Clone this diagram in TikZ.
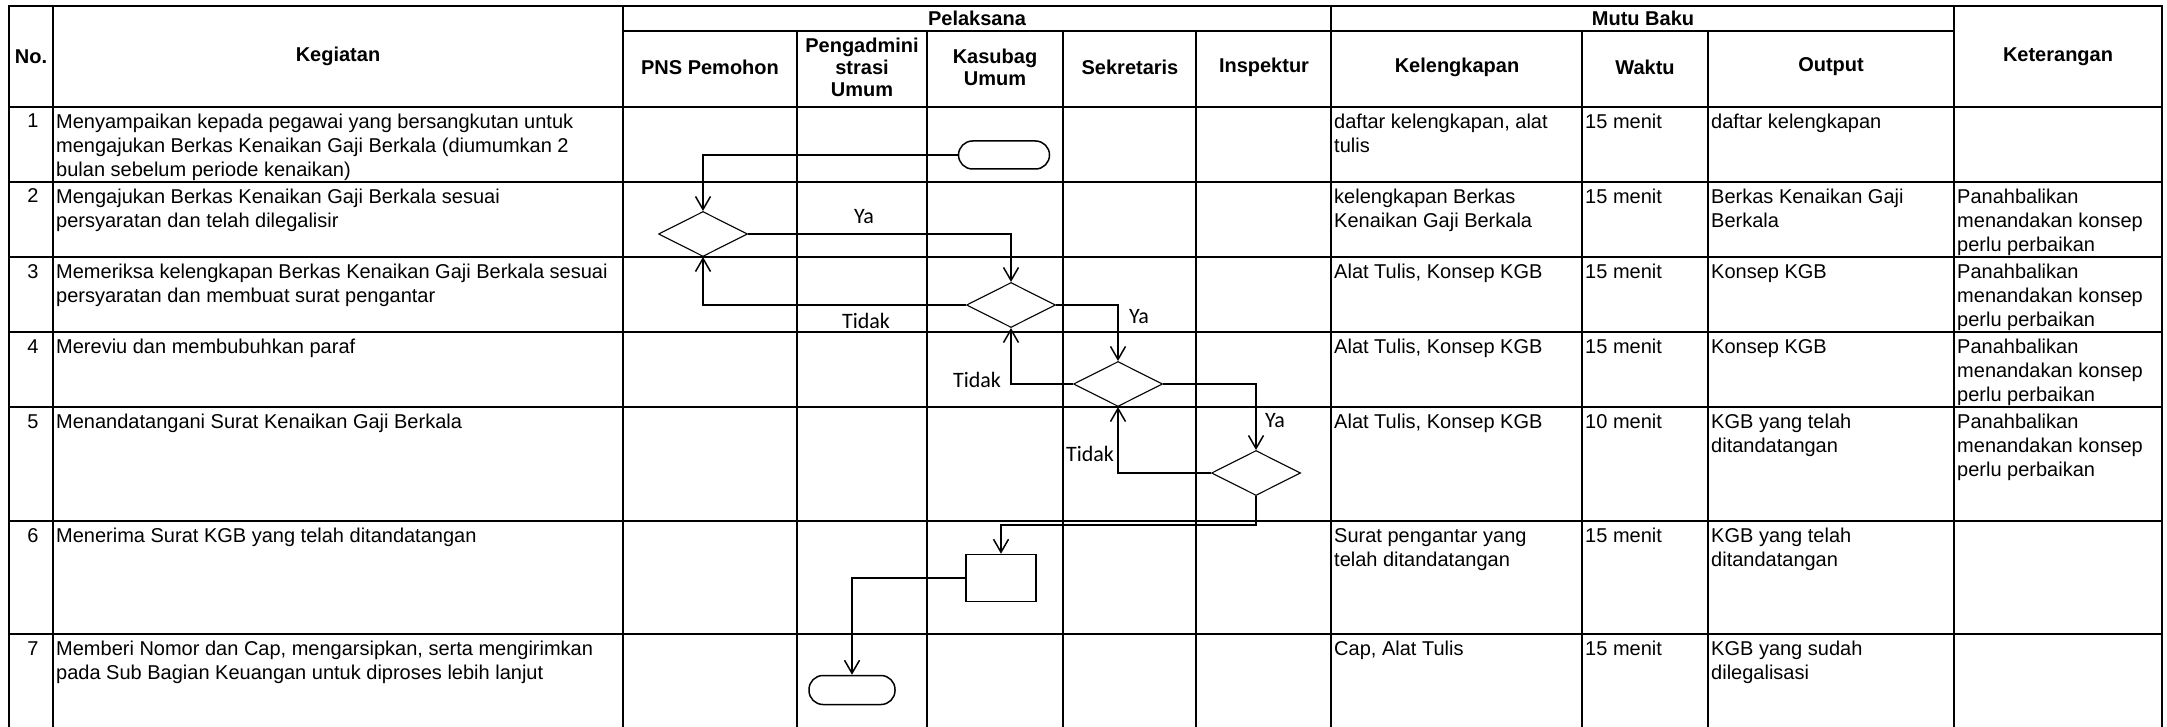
\documentclass[tikz,border=0pt]{standalone}
\usepackage{fontspec}
\setmainfont{Liberation Sans}
\newfontfamily\lblfont{Carlito}
\usetikzlibrary{shapes.geometric,arrows.meta}
\newcommand\bodyfont{\fontsize{20}{24}\selectfont}
\newcommand\headfont{\fontsize{20}{22}\selectfont\bfseries}
\newcommand\cellstrut{\rule{0pt}{16pt}}

\begin{document}
\begin{tikzpicture}[x=1pt,y=-1pt,
  grid/.style={line width=2.2pt, line cap=rect},
  head/.style={font=\headfont, align=center, inner sep=0pt},
  cell/.style={font=\bodyfont, anchor=north west, align=left, inner sep=0pt},
  num/.style={font=\bodyfont, anchor=base, inner sep=0pt},
  lbl/.style={font=\lblfont\fontsize{22}{26}\selectfont, anchor=base, inner sep=0pt},
  flow/.style={line width=1.5pt, -{Straight Barb[length=13pt,width=15pt]}},
  dec/.style={diamond, draw, line width=1.1pt, minimum width=89pt, minimum height=45pt, inner sep=0pt},
  term/.style={rectangle, draw, line width=1.5pt, rounded corners=14pt, minimum width=91pt, minimum height=28pt, inner sep=0pt},
  proc/.style={rectangle, draw, line width=1.5pt, minimum width=70pt, minimum height=47pt, inner sep=0pt}]
\useasboundingbox (0,0) rectangle (2167,727);

% ---------- table rules ----------
\foreach \x in {9,53,623,1331,1954,2162} \draw[grid] (\x,6) -- (\x,727);
\foreach \x in {797,927,1063,1196,1582,1708} \draw[grid] (\x,31) -- (\x,727);
\draw[grid] (9,6) -- (2162,6);
\draw[grid] (623,31) -- (1954,31);
\foreach \y in {107,182,257,332,407,521,634} \draw[grid] (9,\y) -- (2162,\y);

% ---------- header ----------
\node[head] (hNo)   at (31,57)   {No.};
\node[head] (hKeg)  at (338,56)  {Kegiatan};
\node[head] (hPel)  at (977,18)  {Pelaksana};
\node[head] (hMutu) at (1643,18) {Mutu Baku};
\node[head] (hPNS)  at (710,67)  {PNS Pemohon};
\node[head] (hPeng) at (862,67)  {Pengadmini\\strasi\\Umum};
\node[head] (hKas)  at (995,67)  {Kasubag\\Umum};
\node[head] (hSek)  at (1130,67) {Sekretaris};
\node[head] (hIns)  at (1264,67) {Inspektur};
\node[head] (hKel)  at (1457,67) {Kelengkapan};
\node[head] (hWak)  at (1645,67) {Waktu};
\node[head] (hOut)  at (1831,67) {Output};
\node[head] (hKet)  at (2058,57) {Keterangan};

% ---------- row numbers ----------
\node[num] (n1) at (33,128) {1};
\node[num] (n2) at (33,203) {2};
\node[num] (n3) at (33,278) {3};
\node[num] (n4) at (33,353) {4};
\node[num] (n5) at (33,428) {5};
\node[num] (n6) at (33,542) {6};
\node[num] (n7) at (33,655) {7};

% ---------- activities ----------
\node[cell] (k1) at (56,112) {\cellstrut Menyampaikan kepada pegawai yang bersangkutan untuk\\mengajukan Berkas Kenaikan Gaji Berkala (diumumkan 2\\bulan sebelum periode kenaikan)};
\node[cell] (k2) at (56,187) {\cellstrut Mengajukan Berkas Kenaikan Gaji Berkala sesuai\\persyaratan dan telah dilegalisir};
\node[cell] (k3) at (56,262) {\cellstrut Memeriksa kelengkapan Berkas Kenaikan Gaji Berkala sesuai\\persyaratan dan membuat surat pengantar};
\node[cell] (k4) at (56,337) {\cellstrut Mereviu dan membubuhkan paraf};
\node[cell] (k5) at (56,412) {\cellstrut Menandatangani Surat Kenaikan Gaji Berkala};
\node[cell] (k6) at (56,526) {\cellstrut Menerima Surat KGB yang telah ditandatangan};
\node[cell] (k7) at (56,639) {\cellstrut Memberi Nomor dan Cap, mengarsipkan, serta mengirimkan\\pada Sub Bagian Keuangan untuk diproses lebih lanjut};

% ---------- Kelengkapan ----------
\node[cell] (l1) at (1334,112) {\cellstrut daftar kelengkapan, alat\\tulis};
\node[cell] (l2) at (1334,187) {\cellstrut kelengkapan Berkas\\Kenaikan Gaji Berkala};
\node[cell] (l3) at (1334,262) {\cellstrut Alat Tulis, Konsep KGB};
\node[cell] (l4) at (1334,337) {\cellstrut Alat Tulis, Konsep KGB};
\node[cell] (l5) at (1334,412) {\cellstrut Alat Tulis, Konsep KGB};
\node[cell] (l6) at (1334,526) {\cellstrut Surat pengantar yang\\telah ditandatangan};
\node[cell] (l7) at (1334,639) {\cellstrut Cap, Alat Tulis};

% ---------- Waktu ----------
\node[cell] (w1) at (1585,112) {\cellstrut 15 menit};
\node[cell] (w2) at (1585,187) {\cellstrut 15 menit};
\node[cell] (w3) at (1585,262) {\cellstrut 15 menit};
\node[cell] (w4) at (1585,337) {\cellstrut 15 menit};
\node[cell] (w5) at (1585,412) {\cellstrut 10 menit};
\node[cell] (w6) at (1585,526) {\cellstrut 15 menit};
\node[cell] (w7) at (1585,639) {\cellstrut 15 menit};

% ---------- Output ----------
\node[cell] (o1) at (1711,112) {\cellstrut daftar kelengkapan};
\node[cell] (o2) at (1711,187) {\cellstrut Berkas Kenaikan Gaji\\Berkala};
\node[cell] (o3) at (1711,262) {\cellstrut Konsep KGB};
\node[cell] (o4) at (1711,337) {\cellstrut Konsep KGB};
\node[cell] (o5) at (1711,412) {\cellstrut KGB yang telah\\ditandatangan};
\node[cell] (o6) at (1711,526) {\cellstrut KGB yang telah\\ditandatangan};
\node[cell] (o7) at (1711,639) {\cellstrut KGB yang sudah\\dilegalisasi};

% ---------- Keterangan ----------
\node[cell] (t2) at (1957,187) {\cellstrut Panahbalikan\\menandakan konsep\\perlu perbaikan};
\node[cell] (t3) at (1957,262) {\cellstrut Panahbalikan\\menandakan konsep\\perlu perbaikan};
\node[cell] (t4) at (1957,337) {\cellstrut Panahbalikan\\menandakan konsep\\perlu perbaikan};
\node[cell] (t5) at (1957,412) {\cellstrut Panahbalikan\\menandakan konsep\\perlu perbaikan};

% ---------- flow symbols ----------
\node[term] (S)  at (1004,155) {};
\node[dec]  (D1) at (703,234)  {};
\node[dec]  (D2) at (1011,305) {};
\node[dec]  (D3) at (1118,384) {};
\node[dec]  (D4) at (1256,473) {};
\node[proc] (B)  at (1001,578) {};
\node[term, minimum width=86pt, minimum height=29pt] (E) at (852,690) {};
\coordinate (turn) at (1001,525);

% ---------- connectors ----------
\draw[flow] (S.west) -| (D1.north);
\draw[flow] (D1.east) -| (D2.north);
\draw[flow] (D2.west) -| (D1.south);
\draw[flow] (D2.east) -| (D3.north);
\draw[flow] (D3.west) -| (D2.south);
\draw[flow] (D3.east) -| (D4.north);
\draw[flow] (D4.west) -| (D3.south);
\draw[flow] (D4.south) |- (turn) -- (B.north);
\draw[flow] (B.west) -| (E.north);

% ---------- branch labels ----------
\node[lbl] (ya1) at (864,224)  {Ya};
\node[lbl] (td1) at (866,328)  {Tidak};
\node[lbl] (ya2) at (1139,323) {Ya};
\node[lbl] (td2) at (977,387)  {Tidak};
\node[lbl] (ya3) at (1275,427) {Ya};
\node[lbl] (td3) at (1090,461) {Tidak};
\end{tikzpicture}
\end{document}
